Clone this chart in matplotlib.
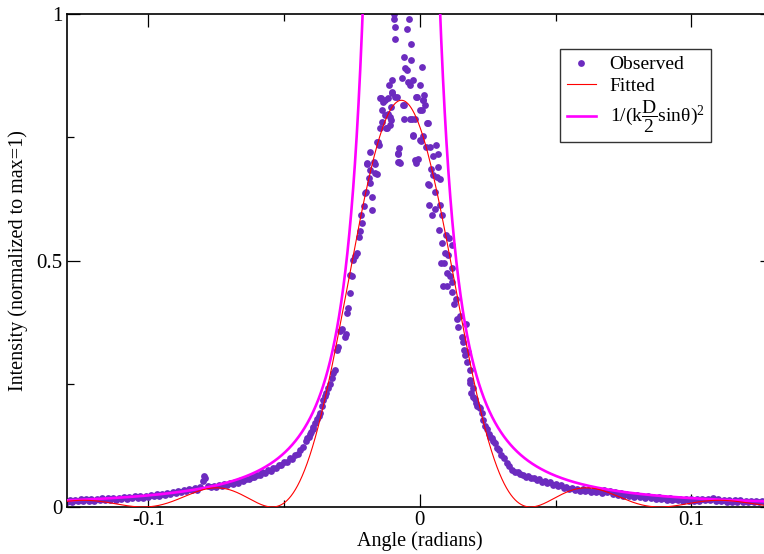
import numpy as np
import matplotlib
matplotlib.use("Agg")
import matplotlib.pyplot as plt

# ---------------- data ----------------
obs_x_left = [-0.130, -0.129, -0.128, -0.127, -0.126, -0.125, -0.124, -0.123, -0.122, -0.121,
              -0.120, -0.119, -0.118, -0.117, -0.116, -0.115, -0.114, -0.113, -0.112, -0.111,
              -0.110, -0.109, -0.108, -0.107, -0.106, -0.105, -0.104, -0.103, -0.102, -0.101,
              -0.100, -0.099, -0.098, -0.097, -0.096, -0.095, -0.094, -0.093, -0.092, -0.091,
              -0.090, -0.089, -0.088, -0.087, -0.086, -0.085, -0.084, -0.083, -0.082, -0.081,
              -0.080, -0.0795, -0.079, -0.078, -0.077, -0.076, -0.075, -0.074, -0.073, -0.072,
              -0.071, -0.070, -0.069, -0.068, -0.067, -0.066, -0.065, -0.064, -0.063, -0.062,
              -0.061, -0.060, -0.059, -0.058, -0.057, -0.056, -0.055, -0.054, -0.053, -0.052,
              -0.051, -0.050, -0.049, -0.048, -0.047, -0.046, -0.045, -0.044, -0.043]
obs_y_left = [0.011, 0.015, 0.011, 0.015, 0.012, 0.016, 0.012, 0.016, 0.013, 0.017,
              0.013, 0.017, 0.014, 0.018, 0.014, 0.018, 0.015, 0.019, 0.015, 0.019,
              0.016, 0.020, 0.017, 0.021, 0.018, 0.022, 0.018, 0.022, 0.019, 0.023,
              0.020, 0.024, 0.022, 0.026, 0.023, 0.027, 0.025, 0.029, 0.027, 0.031,
              0.029, 0.033, 0.031, 0.035, 0.033, 0.037, 0.034, 0.038, 0.035, 0.040,
              0.052, 0.062, 0.058, 0.042, 0.040, 0.043, 0.040, 0.044, 0.042, 0.046,
              0.044, 0.048, 0.046, 0.050, 0.049, 0.054, 0.052, 0.057, 0.056, 0.061,
              0.060, 0.065, 0.064, 0.070, 0.069, 0.075, 0.074, 0.080, 0.079, 0.086,
              0.085, 0.092, 0.091, 0.099, 0.098, 0.106, 0.107, 0.116, 0.121]

obs_x_center = [-0.0420, -0.0415, -0.0410, -0.0405, -0.0400, -0.0395, -0.0392, -0.0385, -0.0378, -0.0372,
                -0.0367, -0.0362, -0.0356, -0.0350, -0.0345, -0.0338, -0.0332, -0.0325, -0.0319, -0.0312,
                -0.0306, -0.0300, -0.0294, -0.0285, -0.0275, -0.0272, -0.0269, -0.0264, -0.0259, -0.0257,
                -0.0250, -0.0245, -0.0238, -0.0232, -0.0226, -0.0220, -0.0217, -0.0214, -0.0207, -0.0201,
                -0.0199, -0.0195, -0.0193, -0.0189, -0.0183, -0.0183, -0.0183, -0.0177, -0.0177, -0.0170,
                -0.0165, -0.0165, -0.0158, -0.0158, -0.0155, -0.0152, -0.0146, -0.0146, -0.0144, -0.0140,
                -0.0140, -0.0136, -0.0128, -0.0128, -0.0124, -0.0122, -0.0119, -0.0116, -0.0112, -0.0109,
                -0.0109, -0.0108, -0.0106, -0.0103, -0.0103, -0.0101, -0.0094, -0.0094, -0.0091, -0.0091,
                -0.0090, -0.0085, -0.0082, -0.0079, -0.0079, -0.0075, -0.0075, -0.0073, -0.0064, -0.0063,
                -0.0060, -0.0059, -0.0057, -0.0054, -0.0048, -0.0048, -0.0044, -0.0039, -0.0038, -0.0036,
                -0.0032, -0.0032, -0.0030, -0.0026, -0.0026, -0.0024, -0.0018, -0.0017, -0.0016, -0.0014,
                -0.0011, -0.0005, -0.0001, 0.0001, 0.0001, 0.0004, 0.0007, 0.0007, 0.0011, 0.0011,
                0.0013, 0.0016, 0.0020, 0.0023, 0.0026, 0.0029, 0.0029, 0.0032, 0.0034, 0.0038,
                0.0042, 0.0044, 0.0050, 0.0050, 0.0054, 0.0056, 0.0060, 0.0062, 0.0066, 0.0068,
                0.0071, 0.0075, 0.0075, 0.0077, 0.0081, 0.0081, 0.0087, 0.0090, 0.0093, 0.0097,
                0.0099, 0.0099, 0.0105, 0.0109, 0.0112, 0.0118, 0.0118, 0.0118, 0.0120, 0.0127,
                0.0134, 0.0136, 0.0142, 0.0148, 0.0155, 0.0158, 0.0163, 0.0165, 0.0169, 0.0173,
                0.0179, 0.0183, 0.0183, 0.0185, 0.0190, 0.0195, 0.0197, 0.0204, 0.0206, 0.0212,
                0.0218, 0.0222, 0.0228, 0.0234, 0.0240, 0.0247, 0.0253, 0.0259, 0.0265, 0.0271,
                0.0277, 0.0284]
obs_y_center = [0.134, 0.140, 0.143, 0.148, 0.152, 0.158, 0.163, 0.170, 0.178, 0.184,
                0.190, 0.205, 0.217, 0.225, 0.232, 0.241, 0.250, 0.262, 0.272, 0.278,
                0.318, 0.325, 0.356, 0.362, 0.345, 0.350, 0.393, 0.404, 0.435, 0.470,
                0.469, 0.501, 0.510, 0.515, 0.548, 0.560, 0.592, 0.576, 0.610, 0.637,
                0.638, 0.697, 0.696, 0.667, 0.657, 0.684, 0.721, 0.629, 0.602, 0.700,
                0.677, 0.696, 0.741, 0.675, 0.740, 0.734, 0.768, 0.829, 0.830, 0.781,
                0.805, 0.821, 0.795, 0.826, 0.769, 0.768, 0.830, 0.798, 0.856, 0.775,
                0.792, 0.812, 0.784, 0.840, 0.866, 0.841, 1.000, 0.990, 0.974, 0.949,
                0.831, 0.831, 0.716, 0.718, 0.699, 0.728, 0.700, 0.697, 0.871, 0.815,
                0.788, 0.815, 0.912, 0.890, 0.969, 0.886, 0.863, 0.990, 0.855, 0.788,
                0.939, 0.907, 0.788, 0.753, 0.755, 0.866, 0.788, 0.704, 0.698, 0.831,
                0.831, 0.706, 0.856, 0.805, 0.744, 0.742, 0.892, 0.805, 0.826, 0.753,
                0.826, 0.836, 0.815, 0.731, 0.778, 0.778, 0.655, 0.653, 0.613, 0.730,
                0.685, 0.592, 0.711, 0.673, 0.639, 0.604, 0.735, 0.670, 0.717, 0.690,
                0.562, 0.665, 0.613, 0.494, 0.592, 0.536, 0.448, 0.494, 0.516, 0.552,
                0.475, 0.448, 0.511, 0.545, 0.469, 0.531, 0.484, 0.437, 0.457, 0.412,
                0.421, 0.381, 0.366, 0.387, 0.345, 0.335, 0.318, 0.308, 0.371, 0.295,
                0.315, 0.278, 0.258, 0.251, 0.232, 0.224, 0.241, 0.220, 0.210, 0.205,
                0.203, 0.200, 0.191, 0.176, 0.164, 0.158, 0.148, 0.143, 0.139, 0.134,
                0.129, 0.119]

obs_x_right = [0.029, 0.030, 0.031, 0.032, 0.033, 0.034, 0.035, 0.036, 0.037, 0.038,
               0.039, 0.040, 0.041, 0.042, 0.043, 0.044, 0.045, 0.046, 0.047, 0.048,
               0.049, 0.050, 0.051, 0.052, 0.053, 0.054, 0.055, 0.056, 0.057, 0.058,
               0.059, 0.060, 0.061, 0.062, 0.063, 0.064, 0.065, 0.066, 0.067, 0.068,
               0.069, 0.070, 0.071, 0.072, 0.073, 0.074, 0.075, 0.076, 0.077, 0.078,
               0.079, 0.080, 0.081, 0.082, 0.083, 0.084, 0.085, 0.086, 0.087, 0.088,
               0.089, 0.090, 0.091, 0.092, 0.093, 0.094, 0.095, 0.096, 0.097, 0.098,
               0.099, 0.100, 0.101, 0.102, 0.103, 0.104, 0.105, 0.106, 0.107, 0.108,
               0.109, 0.110, 0.111, 0.112, 0.113, 0.114, 0.115, 0.116, 0.117, 0.118,
               0.119, 0.120, 0.121, 0.122, 0.123, 0.124, 0.125, 0.126, 0.127, 0.128]
obs_y_right = [0.115, 0.106, 0.099, 0.090, 0.083, 0.076, 0.071, 0.070, 0.066, 0.065,
               0.061, 0.062, 0.058, 0.059, 0.054, 0.056, 0.051, 0.053, 0.048, 0.050,
               0.045, 0.047, 0.042, 0.044, 0.039, 0.041, 0.036, 0.039, 0.034, 0.037,
               0.033, 0.036, 0.032, 0.035, 0.031, 0.034, 0.030, 0.033, 0.029, 0.034,
               0.030, 0.032, 0.027, 0.030, 0.025, 0.028, 0.023, 0.026, 0.022, 0.025,
               0.021, 0.024, 0.020, 0.023, 0.019, 0.022, 0.018, 0.021, 0.017, 0.020,
               0.016, 0.019, 0.015, 0.018, 0.014, 0.017, 0.014, 0.017, 0.013, 0.017,
               0.013, 0.017, 0.013, 0.017, 0.013, 0.017, 0.014, 0.017, 0.014, 0.018,
               0.013, 0.016, 0.012, 0.015, 0.011, 0.014, 0.011, 0.014, 0.011, 0.014,
               0.011, 0.013, 0.011, 0.013, 0.011, 0.013, 0.011, 0.013, 0.011, 0.013]

# model parameters
fit_amplitude = 0.825      # peak of the fitted sinc^2 curve
fit_center = -0.0068       # centre angle (rad)
fit_first_zero = 0.0476    # distance from centre to first zero (rad)
theory_kD2 = 70.0          # k*D/2 (1/rad)
theory_center = -0.0068

x_ticks = [-0.1, 0.0, 0.1]
x_ticklabels = ["-0.1", "0", "0.1"]
y_ticks = [0, 0.5, 1]
y_ticklabels = ["0", "0.5", "1"]

# ---------------- style ----------------
plt.rcParams["font.family"] = ["Liberation Serif", "DejaVu Serif"]
plt.rcParams["mathtext.fontset"] = "custom"
plt.rcParams["mathtext.rm"] = "Liberation Serif"
plt.rcParams["mathtext.it"] = "Liberation Serif:italic"
plt.rcParams["axes.unicode_minus"] = False

W, H = 764, 554
fig = plt.figure(figsize=(W / 100, H / 100), dpi=100)
ax_left, ax_right_px = 67, 772.7
ax_top, ax_bottom = 14, 507
ax = fig.add_axes([ax_left / W, (H - ax_bottom) / H,
                   (ax_right_px - ax_left) / W, (ax_bottom - ax_top) / H])

obs_x = obs_x_left + obs_x_center + obs_x_right
obs_y = obs_y_left + obs_y_center + obs_y_right

theta = np.linspace(-0.13, 0.13, 4001)
u = np.pi * (theta - fit_center) / fit_first_zero
fitted = fit_amplitude * np.sinc(u / np.pi) ** 2
s = theory_kD2 * np.sin(theta - theory_center)
with np.errstate(divide="ignore"):
    theory = 1.0 / s ** 2
theory[theory > 3] = np.nan

purple = "#6c2bbf"
ax.plot(obs_x, obs_y, "o", color=purple, markersize=4.9, markeredgewidth=0,
        label="Observed", zorder=2)
ax.plot(theta, theory, color="#ff00ff", lw=1.9, label=r"$\mathrm{1/(k\dfrac{D}{2}sin\theta)^2}$",
        zorder=3)
ax.plot(theta, fitted, color="#ff0000", lw=0.8, label="Fitted", zorder=4)

ax.set_xlim(-0.13, 0.13)
ax.set_ylim(0, 1)
ax.set_xticks(x_ticks)
ax.set_xticklabels(x_ticklabels)
ax.set_yticks(y_ticks)
ax.set_yticklabels(y_ticklabels)
ax.set_xticks([-0.05, 0.05], minor=True)
ax.set_yticks([0.25, 0.75], minor=True)
ax.tick_params(which="major", direction="in", length=9.5, width=0.9, labelsize=15,
               top=True, right=True, pad=3)
ax.tick_params(which="minor", direction="in", length=5, width=0.9, top=True, right=True)
for sp in ax.spines.values():
    sp.set_linewidth(1.2)

ax.set_xlabel("Angle (radians)", fontsize=14.5, labelpad=1)
ax.set_ylabel("Intensity (normalized to max=1)", fontsize=14.5, labelpad=6)

h, l = ax.get_legend_handles_labels()
order = [0, 2, 1]
leg = ax.legend([h[i] for i in order], [l[i] for i in order],
                loc="upper left", bbox_to_anchor=((560 - ax_left) / (ax_right_px - ax_left),
                                                  (ax_bottom - 49) / (ax_bottom - ax_top)),
                fontsize=14, frameon=True, fancybox=False, edgecolor="black",
                handlelength=1.5, handletextpad=0.7, borderpad=0.35, labelspacing=0.2,
                numpoints=1, borderaxespad=0)
leg.get_frame().set_linewidth(1.0)

fig.savefig("out.png", dpi=100)
